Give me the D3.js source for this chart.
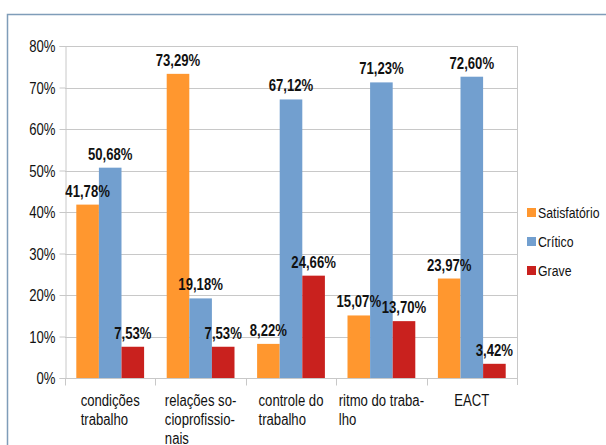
<!DOCTYPE html>
<html>
<head>
<meta charset="utf-8">
<script src="https://cdn.jsdelivr.net/npm/d3@7"></script>
<style>
  body { margin: 0; background: #fff; }
  svg text { font-family: "Liberation Sans", Arial, sans-serif; fill: #111; }
</style>
</head>
<body>
<script>
// chart values
var categories = ['condições trabalho', 'relações sócioprofissionais', 'controle do trabalho', 'ritmo do trabalho', 'EACT'];
var categoryLines = [['condições', 'trabalho'], ['relações so-', 'cioprofissio-', 'nais'], ['controle do', 'trabalho'], ['ritmo do traba-', 'lho'], ['EACT']];
var series = ['Satisfatório', 'Crítico', 'Grave'];
var satisfatorio = [41.78, 73.29, 8.22, 15.07, 23.97];
var critico = [50.68, 19.18, 67.12, 71.23, 72.60];
var grave = [7.53, 7.53, 24.66, 13.70, 3.42];
var yTicks = [0, 10, 20, 30, 40, 50, 60, 70, 80];
var colors = ['#ff972f', '#729fcf', '#c9211e'];

var width = 606, height = 445;
var mLeft = 65, mRight = 517, mTop = 46, mBottom = 378;
var narrow = 0.82; // horizontal squeeze to mimic a narrow font

var svg = d3.select('body').append('svg')
  .attr('width', width)
  .attr('height', height);

// place a text at (x, y) squeezed horizontally
function squeeze(sel, x, y) {
  sel.attr('transform', 'translate(' + x + ',' + y + ') scale(' + narrow + ',1)');
}

// outer frame (left and top edges visible)
svg.append('path')
  .attr('d', 'M7.5,445V14.5H606')
  .attr('fill', 'none')
  .attr('stroke', '#7f9db9')
  .attr('stroke-width', 1.5);

var x0 = d3.scaleBand().domain(categories).range([mLeft, mRight]);
var x1 = d3.scaleBand().domain(series).range([0, x0.bandwidth()]).paddingOuter(0.5);
var y = d3.scaleLinear().domain([0, 80]).range([mBottom, mTop]);
var color = d3.scaleOrdinal().domain(series).range(colors);

// grid lines
svg.append('g').selectAll('line')
  .data(yTicks)
  .enter().append('line')
  .attr('x1', mLeft).attr('x2', mRight)
  .attr('y1', function(d) { return Math.round(y(d)) + 0.5; })
  .attr('y2', function(d) { return Math.round(y(d)) + 0.5; })
  .attr('stroke', '#c8c8c8');

// right edge of plot
svg.append('line')
  .attr('x1', mRight + 0.5).attr('x2', mRight + 0.5)
  .attr('y1', mTop).attr('y2', mBottom + 7)
  .attr('stroke', '#c8c8c8');

// y axis
var yAxis = svg.append('g')
  .attr('transform', 'translate(' + (mLeft + 0.5) + ',0)')
  .call(d3.axisLeft(y).tickValues(yTicks).tickSize(6).tickFormat(function(d) { return d + '%'; }));
yAxis.selectAll('line, path').attr('stroke', '#c8c8c8');
yAxis.selectAll('.tick').each(function(d) {
  var t = d3.select(this).select('text');
  t.attr('x', null).attr('dy', '0.35em').attr('font-size', 16).attr('font-family', null).attr('fill', '#111');
  squeeze(t, -10, 0);
});
yAxis.attr('font-family', null);

// x axis: category separators
var xAxis = svg.append('g')
  .attr('transform', 'translate(0,' + (Math.round(mBottom) + 0.5) + ')');
xAxis.append('line')
  .attr('x1', mLeft).attr('x2', mRight)
  .attr('stroke', '#c8c8c8');
xAxis.selectAll('.sep')
  .data(categories)
  .enter().append('line')
  .attr('class', 'sep')
  .attr('x1', function(d) { return Math.round(x0(d)) + 0.5; })
  .attr('x2', function(d) { return Math.round(x0(d)) + 0.5; })
  .attr('y1', 0).attr('y2', 7)
  .attr('stroke', '#c8c8c8');

// category labels: left-aligned lines, block centered on the band
categories.forEach(function(c, i) {
  var t = svg.append('text')
    .attr('font-size', 16);
  categoryLines[i].forEach(function(line, j) {
    t.append('tspan')
      .attr('x', 0)
      .attr('y', j * 19)
      .text(line);
  });
  var w = 0;
  t.selectAll('tspan').each(function() { w = Math.max(w, this.getComputedTextLength()); });
  squeeze(t, x0(c) + x0.bandwidth() / 2 - w * narrow / 2, 406);
});

// bars
var values = [satisfatorio, critico, grave];
var rows = [];
categories.forEach(function(c, i) {
  series.forEach(function(s, k) {
    rows.push({ cat: c, series: s, value: values[k][i] });
  });
});

svg.append('g').selectAll('rect')
  .data(rows)
  .enter().append('rect')
  .attr('x', function(d) { return x0(d.cat) + x1(d.series); })
  .attr('y', function(d) { return y(d.value); })
  .attr('width', x1.bandwidth())
  .attr('height', function(d) { return y(0) - y(d.value); })
  .attr('fill', function(d) { return color(d.series); });

// value labels
svg.append('g').selectAll('text')
  .data(rows)
  .enter().append('text')
  .attr('text-anchor', 'middle')
  .attr('font-size', 16)
  .attr('font-weight', 'bold')
  .text(function(d) { return d.value.toFixed(2).replace('.', ',') + '%'; })
  .each(function(d) {
    squeeze(d3.select(this), x0(d.cat) + x1(d.series) + x1.bandwidth() / 2, y(d.value) - 8);
  });

// legend
var legend = svg.append('g').selectAll('g')
  .data(series)
  .enter().append('g')
  .attr('transform', function(d, i) { return 'translate(527,' + (213 + i * 29) + ')'; });
legend.append('rect')
  .attr('x', 0).attr('y', -5)
  .attr('width', 9).attr('height', 9)
  .attr('fill', function(d) { return color(d); });
legend.append('text')
  .attr('dy', '0.35em')
  .attr('font-size', 15)
  .text(function(d) { return d; })
  .each(function() { squeeze(d3.select(this), 11, 0); });
</script>
</body>
</html>
